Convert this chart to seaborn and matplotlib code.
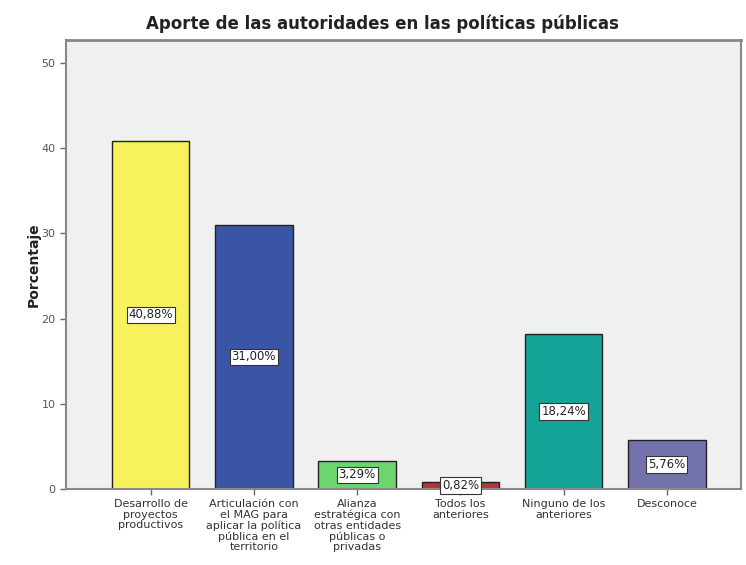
import pandas as pd
import matplotlib.pyplot as plt
import seaborn as sns

# data
categorias = [
    'Desarrollo de\nproyectos\nproductivos',
    'Articulación con\nel MAG para\naplicar la política\npública en el\nterritorio',
    'Alianza\nestratégica con\notras entidades\npúblicas o\nprivadas',
    'Todos los\nanteriores',
    'Ninguno de los\nanteriores',
    'Desconoce',
]
porcentajes = [40.88, 31.00, 3.29, 0.82, 18.24, 5.76]
etiquetas = ['40,88%', '31,00%', '3,29%', '0,82%', '18,24%', '5,76%']
colores = ['#F7F25C', '#3B55A6', '#6DD56E', '#B8343A', '#14A497', '#7372AC']

df = pd.DataFrame({'categoria': categorias, 'porcentaje': porcentajes})

sns.set_style('white')
plt.rcParams['font.family'] = ['DejaVu Sans']

fig = plt.figure(figsize=(7.46, 5.65), dpi=100)
ax = fig.add_axes([0.0885, 0.1345, 0.905, 0.7945])
ax.set_facecolor('#F0F0F0')

sns.barplot(data=df, x='categoria', y='porcentaje', hue='categoria',
            palette=colores, legend=False, width=0.75, saturation=1,
            edgecolor='#222222', linewidth=1.0, ax=ax)

for i, (v, t) in enumerate(zip(porcentajes, etiquetas)):
    ax.text(i, v / 2, t, ha='center', va='center', fontsize=8.5, color='#222222',
            bbox=dict(boxstyle='square,pad=0.15', facecolor='white',
                      edgecolor='#333333', linewidth=0.8))

ax.set_xlim(-0.82, 5.72)
ax.set_ylim(0, 52.7)
ax.set_yticks([0, 10, 20, 30, 40, 50])
ax.tick_params(axis='y', labelsize=8, colors='#555555', length=4, width=1)
ax.tick_params(axis='x', labelsize=8, colors='#333333', length=4, width=1)
for lbl in ax.get_xticklabels():
    lbl.set_linespacing(1.05)
ax.tick_params(axis='both', color='#666666', direction='out')
ax.tick_params(left=True, bottom=True)

for s in ax.spines.values():
    s.set_color('#888888')
    s.set_linewidth(1.5)
ax.spines['top'].set_linewidth(2)

ax.set_xlabel('')
ax.set_ylabel('Porcentaje', fontsize=10, fontweight='bold', color='#222222')
ax.yaxis.set_label_coords(-0.038, 0.5)
fig.text(0.512, 0.958, 'Aporte de las autoridades en las políticas públicas',
         ha='center', va='center', fontsize=12, fontweight='bold',
         color='#222222')

fig.savefig('out.png', dpi=100)
